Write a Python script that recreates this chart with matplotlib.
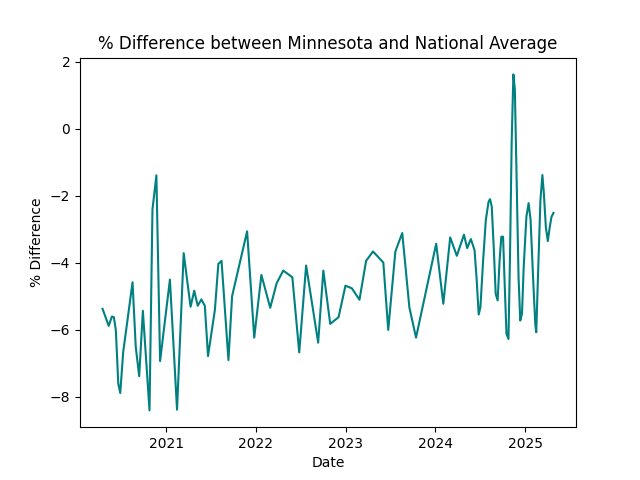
import matplotlib
matplotlib.use('Agg')
import matplotlib.pyplot as plt
import pandas as pd

dates = [
    '2020-04-17', '2020-05-12', '2020-05-25', '2020-06-02', '2020-06-10', '2020-06-20',
    '2020-06-28', '2020-07-10', '2020-08-17', '2020-08-30', '2020-09-13', '2020-09-28',
    '2020-10-25', '2020-11-06', '2020-11-22', '2020-12-07', '2021-01-16', '2021-02-14',
    '2021-03-13', '2021-04-10', '2021-04-25', '2021-05-09', '2021-05-24', '2021-06-07',
    '2021-06-20', '2021-07-18', '2021-08-01', '2021-08-14', '2021-09-11', '2021-09-26',
    '2021-11-26', '2021-12-25', '2022-01-23', '2022-02-28', '2022-03-26', '2022-04-22',
    '2022-05-29', '2022-06-26', '2022-07-24', '2022-09-11', '2022-10-02', '2022-10-30',
    '2022-12-03', '2022-12-31', '2023-01-26', '2023-02-26', '2023-03-25', '2023-04-22',
    '2023-06-03', '2023-06-23', '2023-07-22', '2023-08-19', '2023-09-17', '2023-10-14',
    '2024-01-04', '2024-02-02', '2024-03-01', '2024-03-28', '2024-04-26', '2024-05-09',
    '2024-05-24', '2024-06-08', '2024-06-16', '2024-06-25', '2024-07-02', '2024-07-13',
    '2024-07-24', '2024-08-04', '2024-08-10', '2024-08-17', '2024-08-25', '2024-09-02',
    '2024-09-10', '2024-09-18', '2024-09-25', '2024-10-02', '2024-10-09', '2024-10-16',
    '2024-10-24', '2024-10-30', '2024-11-06', '2024-11-13', '2024-11-19', '2024-11-26',
    '2024-12-04', '2024-12-11', '2024-12-18', '2024-12-25', '2025-01-05', '2025-01-14',
    '2025-01-22', '2025-02-01', '2025-02-10', '2025-02-14', '2025-02-21', '2025-03-03',
    '2025-03-11', '2025-03-17', '2025-03-25', '2025-04-02', '2025-04-10', '2025-04-17',
    '2025-04-25',
]

pct_diff = [
    -5.37, -5.88, -5.60, -5.62, -6.00, -7.60,
    -7.88, -6.66, -4.58, -6.50, -7.38, -5.43,
    -8.40, -2.41, -1.39, -6.93, -4.50, -8.38,
    -3.71, -5.31, -4.83, -5.28, -5.09, -5.28,
    -6.78, -5.40, -4.03, -3.94, -6.90, -4.99,
    -3.06, -6.23, -4.36, -5.34, -4.61, -4.23,
    -4.43, -6.67, -4.08, -6.38, -4.23, -5.82,
    -5.62, -4.68, -4.76, -5.10, -3.94, -3.66,
    -3.99, -6.00, -3.66, -3.11, -5.33, -6.23,
    -3.43, -5.22, -3.24, -3.79, -3.16, -3.56,
    -3.29, -3.62, -4.42, -5.54, -5.32, -3.92,
    -2.72, -2.18, -2.10, -2.32, -3.52, -4.92,
    -5.12, -3.92, -3.22, -3.22, -4.72, -6.12,
    -6.27, -3.92, -0.43, 1.62, 1.17, -1.43,
    -4.42, -5.72, -5.52, -4.12, -2.62, -2.22,
    -2.72, -4.42, -5.82, -6.07, -4.42, -2.13,
    -1.38, -1.93, -2.93, -3.35, -2.93, -2.63,
    -2.51,
]

df = pd.DataFrame({'Date': pd.to_datetime(dates), 'diff': pct_diff})

fig, ax = plt.subplots(figsize=(6.4, 4.8), dpi=100)
ax.plot(df['Date'], df['diff'], color='teal')
ax.set_title('% Difference between Minnesota and National Average')
ax.set_xlabel('Date')
ax.set_ylabel('% Difference')
plt.savefig('out.png')
